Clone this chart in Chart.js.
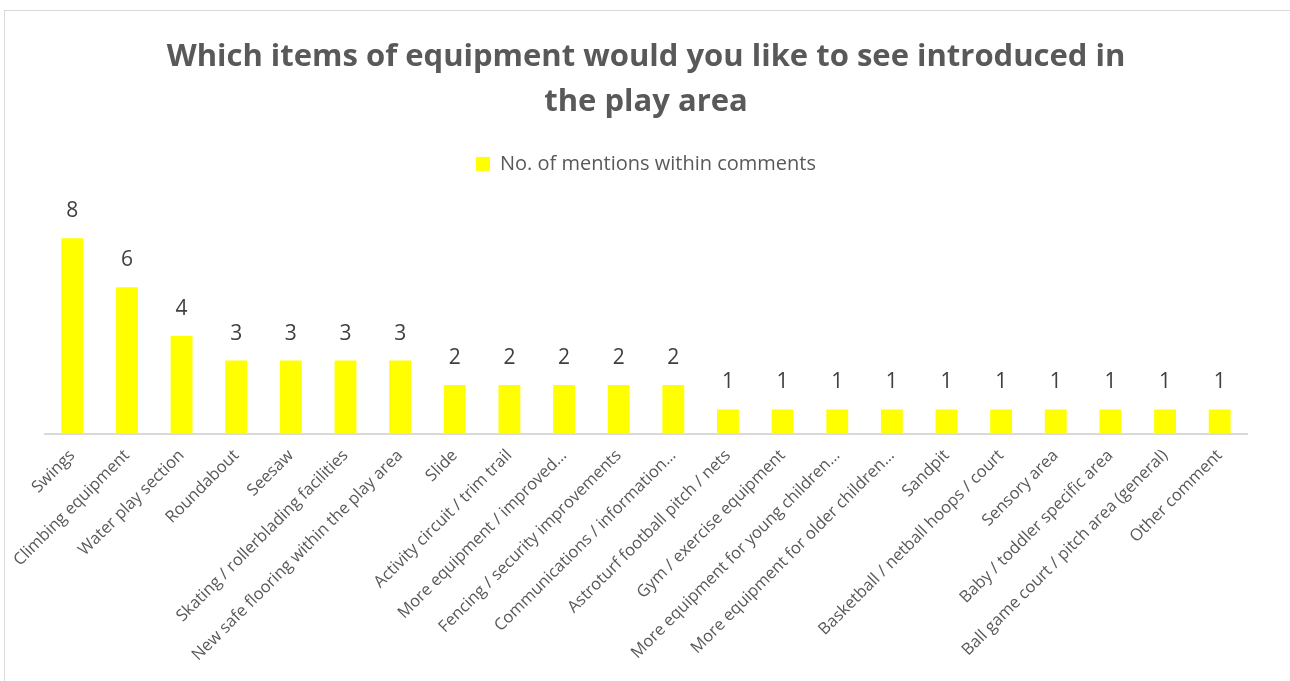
<!DOCTYPE html>
<html>
<head>
<meta charset="utf-8">
<script src="https://cdn.jsdelivr.net/npm/chart.js@4.4.1/dist/chart.umd.min.js"></script>
<style>
  html, body { margin: 0; padding: 0; background: #fff; }
  #wrap { position: relative; width: 1290px; height: 681px; }
  #frame { position: absolute; left: 4px; top: 10px; width: 1300px; height: 700px; border: 1px solid #d9d9d9; }
  #Chart { position: absolute; left: 0; top: 0; }
</style>
</head>
<body>
<div id="wrap">
  <div id="frame"></div>
  <canvas id="Chart" width="1290" height="681"></canvas>
</div>
<script>
var titleLines = ['Which items of equipment would you like to see introduced in', 'the play area'];
var seriesName = 'No. of mentions within comments';
var categories = [
  'Swings',
  'Climbing equipment',
  'Water play section',
  'Roundabout',
  'Seesaw',
  'Skating / rollerblading facilities',
  'New safe flooring within the play area',
  'Slide',
  'Activity circuit / trim trail',
  'More equipment / improved\u2026',
  'Fencing / security improvements',
  'Communications / information\u2026',
  'Astroturf football pitch / nets',
  'Gym / exercise equipment',
  'More equipment for young children\u2026',
  'More equipment for older children\u2026',
  'Sandpit',
  'Basketball / netball hoops / court',
  'Sensory area',
  'Baby / toddler specific area',
  'Ball game court / pitch area (general)',
  'Other comment'
];
var mentions = [8, 6, 4, 3, 3, 3, 3, 2, 2, 2, 2, 2, 1, 1, 1, 1, 1, 1, 1, 1, 1, 1];

// number above each bar
var valueLabels = {
  id: 'valueLabels',
  afterDatasetsDraw: function (chart) {
    var ctx = chart.ctx;
    var meta = chart.getDatasetMeta(0);
    ctx.save();
    ctx.font = '21px "Open Sans", sans-serif';
    ctx.fillStyle = '#404040';
    ctx.textAlign = 'center';
    ctx.textBaseline = 'middle';
    meta.data.forEach(function (bar, i) {
      ctx.fillText(String(mentions[i]), bar.x, bar.y - 27);
    });
    ctx.restore();
  }
};

// extra room under the legend
var legendGap = {
  id: 'legendGap',
  beforeInit: function (chart) {
    var fit = chart.legend.fit;
    chart.legend.fit = function () {
      fit.call(this);
      this.height += 30;
    };
  }
};

var ctx = document.getElementById('Chart').getContext('2d');
var myChart = new Chart(ctx, {
  type: 'bar',
  data: {
    labels: categories,
    datasets: [{
      label: seriesName,
      data: mentions,
      backgroundColor: '#FFFF00',
      borderWidth: 0,
      barPercentage: 0.4,
      categoryPercentage: 1
    }]
  },
  options: {
    responsive: false,
    animation: false,
    layout: { padding: { left: 45, right: 43, top: 35, bottom: 4 } },
    plugins: {
      title: {
        display: true,
        text: titleLines,
        color: '#595959',
        font: { family: '"Open Sans", sans-serif', size: 31, weight: 'bold', lineHeight: 1.45 },
        padding: { top: 0, bottom: 21 }
      },
      legend: {
        display: true,
        labels: {
          color: '#595959',
          font: { family: '"Open Sans", sans-serif', size: 20 },
          boxWidth: 14,
          boxHeight: 14,
          padding: 8
        }
      },
      tooltip: { enabled: false }
    },
    scales: {
      x: {
        grid: { display: false, drawTicks: false },
        border: { color: '#d9d9d9', width: 2 },
        ticks: {
          color: '#595959',
          font: { family: '"Open Sans", sans-serif', size: 16.5 },
          minRotation: 45,
          maxRotation: 45,
          autoSkip: false,
          padding: 12
        }
      },
      y: {
        display: false,
        min: 0,
        max: 9
      }
    }
  },
  plugins: [valueLabels, legendGap]
});
</script>
</body>
</html>
